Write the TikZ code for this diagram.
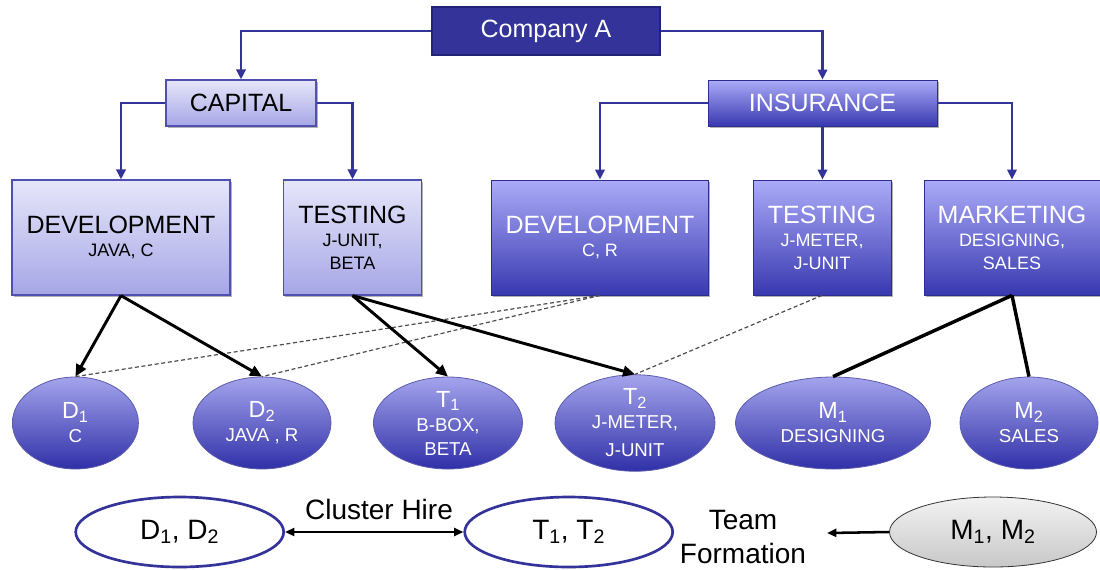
\documentclass[tikz,border=0pt]{standalone}
\usepackage{fontspec}
\setmainfont{Liberation Sans}
\usetikzlibrary{arrows.meta,shapes.geometric,shadows}

\definecolor{cblue}{HTML}{333399}
\definecolor{cdark}{HTML}{222277}
\definecolor{lighttop}{HTML}{E6E6FA}
\definecolor{lightbot}{HTML}{A6A6E6}
\definecolor{lightedge}{HTML}{5050B0}
\definecolor{deeptop}{HTML}{ABABF8}
\definecolor{deepbot}{HTML}{3838B0}
\definecolor{elltop}{HTML}{A4A4EC}
\definecolor{ellbot}{HTML}{3030A8}
\definecolor{greytop}{HTML}{F2F2F2}
\definecolor{greybot}{HTML}{C8C8C8}

\newcommand\ttlfont{\fontsize{18.75}{22}\selectfont}
\newcommand\subfont{\fontsize{13.5}{17.25}\selectfont}
\newcommand\eltfont{\fontsize{17.5}{18}\selectfont}
\newcommand\elsfont{\fontsize{14}{18}\selectfont}
\newcommand\lowfont{\fontsize{21}{26}\selectfont}

\begin{document}
\begin{tikzpicture}[x=0.75pt,y=-0.75pt,
  shadowed/.style={drop shadow={shadow xshift=1.2pt,shadow yshift=-1.2pt,opacity=0.3,fill=black}},
  company/.style={rectangle,fill=cblue,draw=cdark,line width=1.2pt,text=white,
    font=\ttlfont,minimum width=171pt,minimum height=36pt,inner sep=0pt},
  lbox/.style={rectangle,shading=axis,top color=lighttop,bottom color=lightbot,
    draw=lightedge,line width=0.9pt,text=black,align=center,font=\subfont,inner sep=0pt,shadowed},
  dbox/.style={rectangle,shading=axis,top color=deeptop,bottom color=deepbot,
    draw=deepbot!80!black,line width=0.6pt,text=white,align=center,font=\subfont,inner sep=0pt,shadowed},
  headbox/.style={minimum height=34.5pt,font=\ttlfont},
  unitbox/.style={minimum height=86.25pt},
  person/.style={ellipse,shading=axis,top color=elltop,bottom color=ellbot,
    draw=cblue!80,line width=0.6pt,text=white,align=center,font=\elsfont,
    minimum height=69pt,inner sep=0pt},
  team/.style={ellipse,fill=white,draw=cblue,line width=2pt,font=\lowfont,
    minimum width=156pt,minimum height=52.5pt,inner sep=0pt},
  conn/.style={draw=cblue,line width=2.1pt,-{Triangle[length=7.5pt,width=7pt]}},
  assign/.style={draw=black,line width=2.2pt,-{Triangle[length=9pt,width=8pt]}},
  link/.style={draw=black,line width=2.6pt},
  shared/.style={draw=black!70,line width=0.9pt,dash pattern=on 3pt off 2pt},
  flow/.style={draw=black,line width=1.9pt},
]
\useasboundingbox (0,0) rectangle (1100,569);

% top of the hierarchy
\node[company] (co) at (546,31) {Company A};
\node[lbox,headbox,minimum width=112.5pt] (cap) at (241,103) {CAPITAL};
\node[dbox,headbox,minimum width=171.75pt] (ins) at (822.5,103) {INSURANCE};

% departments
\node[lbox,unitbox,minimum width=163.5pt] (devl) at (121,237.5)
  {{\ttlfont DEVELOPMENT}\\JAVA, C};
\node[lbox,unitbox,minimum width=103.5pt] (testl) at (352.5,237.5)
  {{\ttlfont TESTING}\\J-UNIT,\\BETA};
\node[dbox,unitbox,minimum width=163.1pt] (devr) at (600,237.5)
  {{\ttlfont DEVELOPMENT}\\C, R};
\node[dbox,unitbox,minimum width=103.5pt] (testr) at (822,237.5)
  {{\ttlfont TESTING}\\J-METER,\\J-UNIT};
\node[dbox,unitbox,minimum width=132pt] (mkt) at (1012,237.5)
  {{\ttlfont MARKETING}\\DESIGNING,\\SALES};

% people
\node[person,minimum width=94.5pt] (d1) at (75.4,423) {{\eltfont D\textsubscript{1}}\\C};
\node[person,minimum width=103.5pt] (d2) at (262,423) {{\eltfont D\textsubscript{2}}\\JAVA , R};
\node[person,minimum width=111.75pt] (t1) at (448,423) {{\eltfont T\textsubscript{1}}\\B-BOX,\\BETA};
\node[person,minimum width=120pt] (t2) at (635,423) {{\eltfont T\textsubscript{2}}\\J-METER,\\[3pt]J-UNIT};
\node[person,minimum width=146.25pt] (m1) at (833,423) {{\eltfont M\textsubscript{1}}\\DESIGNING};
\node[person,minimum width=103.5pt] (m2) at (1029,423) {{\eltfont M\textsubscript{2}}\\SALES};

% teams
\node[team] (dd) at (179.7,532) {D\textsubscript{1}, D\textsubscript{2}};
\node[team] (tt) at (568.7,532) {T\textsubscript{1}, T\textsubscript{2}};
\node[ellipse,shading=axis,top color=greytop,bottom color=greybot,draw=black!80,
  line width=0.6pt,font=\lowfont,minimum width=155.25pt,minimum height=52.5pt,inner sep=0pt]
  (mm) at (993,532) {M\textsubscript{1}, M\textsubscript{2}};
\node[font=\lowfont] (hire) at (379,509) {Cluster Hire};
\node[font=\lowfont,align=center] (form) at (743,537) {Team\\Formation};
\coordinate (formend) at (827,533);

% hierarchy connectors
\draw[conn] (co.west) -| (cap.north);
\draw[conn] (co.east) -| (ins.north);
\draw[conn] (cap.west) -| (devl.north);
\draw[conn] (cap.east) -| (testl.north);
\draw[conn] (ins.west) -| (devr.north);
\draw[conn] (ins.south) -- (ins.south |- testr.north);
\draw[conn] (ins.east) -| (mkt.north);

% staff assignments
\draw[shared] (devr.south) -- (d1.north);
\draw[shared] (devr.south) -- (d2.north);
\draw[shared] (testr.south) -- (t2.north);
\draw[assign] (devl.south) -- (d1.north);
\draw[assign] (devl.south) -- (d2.north);
\draw[assign] (testl.south) -- (t1.north);
\draw[assign] (testl.south) -- (t2.north);
\draw[link] (mkt.south) -- (m1.north);
\draw[link] (mkt.south) -- (m2.north);

% team relations
\draw[flow,{Triangle[length=7pt,width=6pt]}-{Triangle[length=7pt,width=6pt]}] (dd.east) -- (tt.west);
\draw[flow,-{Triangle[length=7pt,width=6pt]}] (mm.west) -- (formend);
\end{tikzpicture}
\end{document}
